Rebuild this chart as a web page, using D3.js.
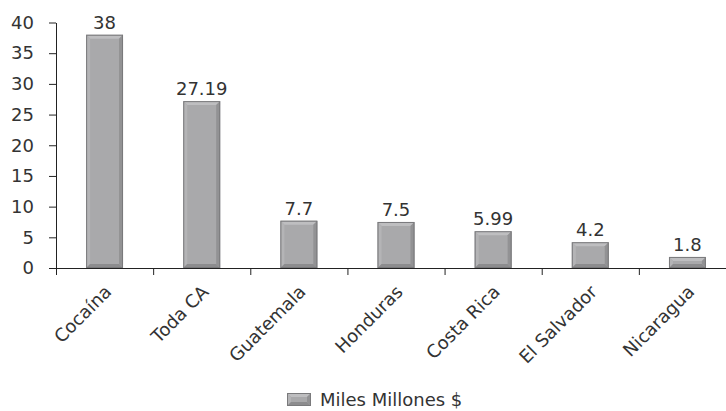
<!DOCTYPE html>
<html>
<head>
<meta charset="utf-8">
<script src="https://cdn.jsdelivr.net/npm/d3@7"></script>
<style>
  html, body { margin: 0; padding: 0; background: #ffffff; }
  svg { display: block; font-family: "DejaVu Sans", sans-serif; }
</style>
</head>
<body>
<svg id="chart" width="726" height="411"></svg>
<script>
// Narcotics money vs. Central American economies (thousand millions of dollars)
const categories = ["Cocaína", "Toda CA", "Guatemala", "Honduras", "Costa Rica", "El Salvador", "Nicaragua"];
const values = [38, 27.19, 7.7, 7.5, 5.99, 4.2, 1.8];
const valueLabels = ["38", "27.19", "7.7", "7.5", "5.99", "4.2", "1.8"];
const yTicks = [0, 5, 10, 15, 20, 25, 30, 35, 40];
const seriesName = "Miles Millones $";

const svg = d3.select("#chart");
const textColor = "#333333";
const fontSize = 18;

const margin = { left: 56, top: 22.5, bottom: 268, right: 736 };

const x = d3.scaleBand().domain(categories).range([margin.left, margin.right]).padding(0);
const y = d3.scaleLinear().domain([0, 40]).range([margin.bottom, margin.top]);
const barFrac = 0.38;

// Category boundary scale for the x-axis tick marks
const xEdges = d3.scaleLinear().domain([0, categories.length]).range([margin.left, margin.right]);

// Bevelled bar drawing
function bevelBar(g, x0, y0, x1, y1) {
  const h = y1 - y0;
  const b = Math.min(4, h / 2);
  const poly = pts => "M" + pts.map(p => p.join(",")).join("L") + "Z";
  g.append("rect").attr("x", x0).attr("y", y0).attr("width", x1 - x0).attr("height", h)
    .attr("fill", "#a9a9ab");
  g.append("path").attr("d", poly([[x0, y0], [x1, y0], [x1 - b, y0 + b], [x0 + b, y0 + b]])).attr("fill", "#bebec0");
  g.append("path").attr("d", poly([[x0, y0], [x0 + b, y0 + b], [x0 + b, y1 - b], [x0, y1]])).attr("fill", "#b4b4b6");
  g.append("path").attr("d", poly([[x1, y0], [x1, y1], [x1 - b, y1 - b], [x1 - b, y0 + b]])).attr("fill", "#929294");
  g.append("path").attr("d", poly([[x0, y1], [x1, y1], [x1 - b, y1 - b], [x0 + b, y1 - b]])).attr("fill", "#8c8c8e");
  g.append("rect").attr("x", x0 + 0.5).attr("y", y0 + 0.5).attr("width", x1 - x0 - 1).attr("height", Math.max(0, h - 1))
    .attr("fill", "none").attr("stroke", "#7a7a7c").attr("stroke-width", 1);
}

// Bars
const bars = svg.append("g");
categories.forEach((c, i) => {
  const bw = x.bandwidth() * barFrac;
  const cx = x(c) + x.bandwidth() / 2;
  bevelBar(bars.append("g"), cx - bw / 2, y(values[i]), cx + bw / 2, y(0));
});

// Value labels
svg.append("g").selectAll("text").data(categories).join("text")
  .attr("x", c => x(c) + x.bandwidth() / 2)
  .attr("y", (c, i) => y(values[i]) - 6)
  .attr("text-anchor", "middle")
  .attr("font-size", fontSize)
  .attr("fill", textColor)
  .text((c, i) => valueLabels[i]);

// Y axis
const yAxis = svg.append("g").attr("transform", `translate(${margin.left},0)`)
  .call(d3.axisLeft(y).tickValues(yTicks).tickSize(7).tickPadding(15).tickSizeOuter(0));
yAxis.select(".domain").attr("stroke", "#222");
yAxis.selectAll(".tick line").attr("stroke", "#222");
yAxis.selectAll(".tick text").attr("font-size", fontSize).attr("fill", textColor)
  .attr("font-family", "DejaVu Sans, sans-serif");

// X axis with ticks at category boundaries
const xAxis = svg.append("g").attr("transform", `translate(0,${margin.bottom})`)
  .call(d3.axisBottom(xEdges).tickValues(d3.range(categories.length + 1)).tickSize(7).tickFormat("").tickSizeOuter(0));
xAxis.select(".domain").attr("stroke", "#222");
xAxis.selectAll(".tick line").attr("stroke", "#222");

// Rotated category labels
svg.append("g").selectAll("text").data(categories).join("text")
  .attr("transform", c => `translate(${x(c) + x.bandwidth() / 2 + 8},${margin.bottom + 25}) rotate(-45)`)
  .attr("text-anchor", "end")
  .attr("font-size", fontSize)
  .attr("fill", textColor)
  .text(c => c);

// Legend
const legend = svg.append("g").attr("transform", "translate(287,393)");
bevelBar(legend, 0, 0, 24, 13);
legend.append("text").attr("x", 33).attr("y", 13).attr("font-size", fontSize).attr("fill", textColor).text(seriesName);
</script>
</body>
</html>
